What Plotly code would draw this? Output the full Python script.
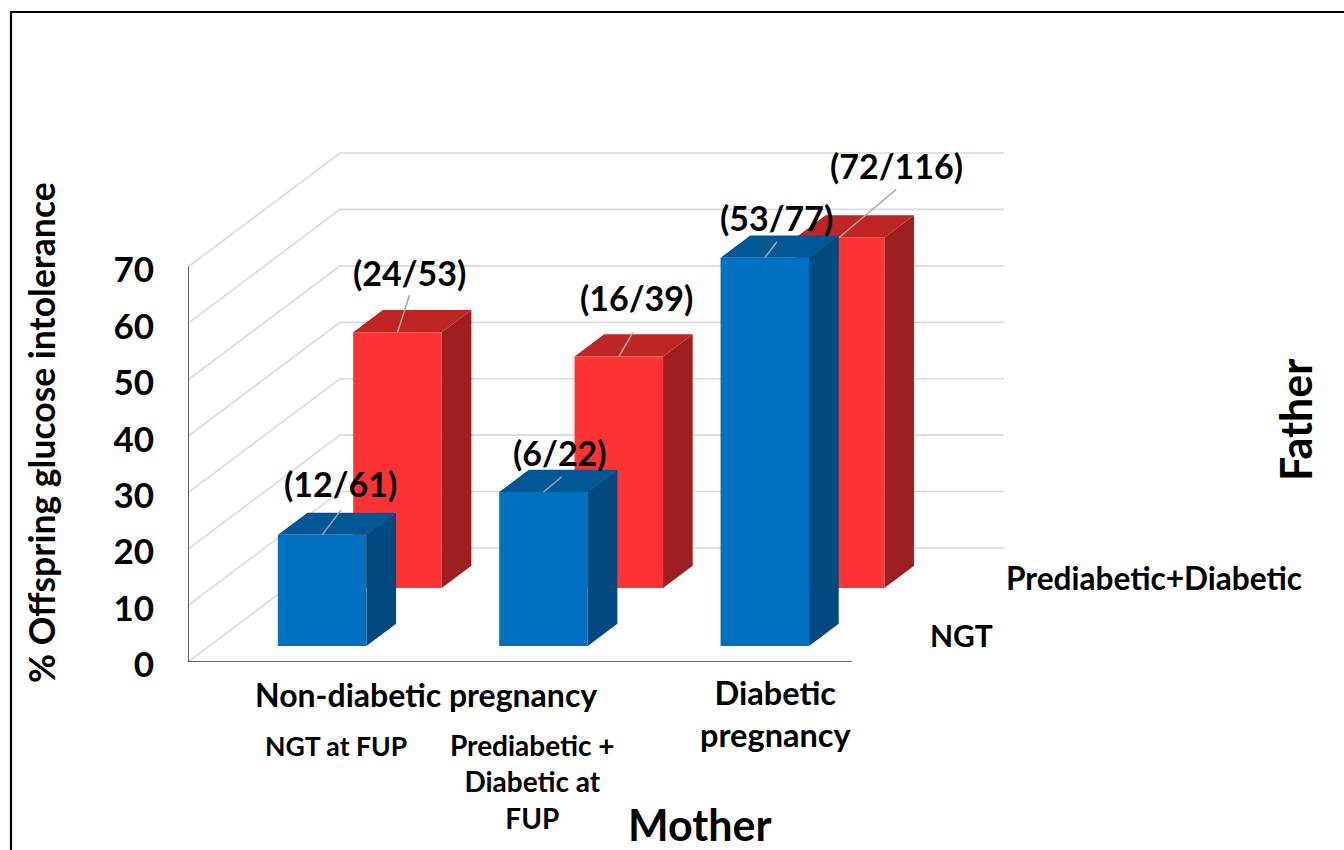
import plotly.graph_objects as go

# ---------- data ----------
y_ticks = [0, 10, 20, 30, 40, 50, 60, 70]
ngt_father_values = [19.7, 27.3, 68.8]          # blue, NGT father
pre_father_values = [45.3, 41.0, 62.1]          # red, Prediabetic+Diabetic father
ngt_father_labels = ["(12/61)", "(6/22)", "(53/77)"]
pre_father_labels = ["(24/53)", "(16/39)", "(72/116)"]
y_title = "% Offspring glucose intolerance"
mother_title = "Mother"
father_title = "Father"
depth_names = ["NGT", "Prediabetic+Diabetic"]

# ---------- layout constants (pixels of the page) ----------
W, H = 1344, 850
X0, Y0 = 188, 662          # origin of the front floor corner
PX_PER_CAT = 221.33
PX_PER_VAL = 5.643
DX_PX, DY_PX = 152, 114    # full depth vector of the floor
FONT = "Lato"

BLUE = dict(front="#0070C0", top="#005796", side="#004A80", d0=0.14, cx=0.51)
RED = dict(front="#FF3333", top="#BE2525", side="#9E1F1F", d0=0.65, cx=0.50)
BAR_W, BAR_D = 0.40, 0.195


def proj(x, d, v):
    """Oblique projection of category x, depth d (0-1), value v on the 2-D axes."""
    return x + d * DX_PX / PX_PER_CAT, v + d * DY_PX / PX_PER_VAL


def page_x(px):
    return (px - X0) / PX_PER_CAT


def paper_x(px):
    return (px - X0) / (W - X0)


def paper_y(py):
    return (Y0 - py) / Y0


def poly(points):
    xs, ys = [], []
    for (x, d, v) in points:
        a, b = proj(x, d, v)
        xs.append(a)
        ys.append(b)
    xs.append(xs[0])
    ys.append(ys[0])
    return xs, ys


fig = go.Figure()

# gridlines on wall + back
gx, gy = [], []
for t in y_ticks:
    for (x, d) in [(0, 0), (0, 1), (3, 1)]:
        a, b = proj(x, d, t)
        gx.append(a)
        gy.append(b)
    gx.append(None)
    gy.append(None)
fig.add_trace(go.Scatter(x=gx, y=gy, mode="lines", line=dict(color="#D9D9D9", width=1.6),
                         hoverinfo="skip", showlegend=False))


def add_series(values, st, name):
    faces = {"front": ([], []), "side": ([], []), "top": ([], [])}
    for i, v in enumerate(values):
        l = i + st["cx"] - BAR_W / 2
        r = l + BAR_W
        d0, d1 = st["d0"], st["d0"] + BAR_D
        shapes = {
            "front": [(l, d0, 0), (r, d0, 0), (r, d0, v), (l, d0, v)],
            "side": [(r, d0, 0), (r, d1, 0), (r, d1, v), (r, d0, v)],
            "top": [(l, d0, v), (r, d0, v), (r, d1, v), (l, d1, v)],
        }
        for k, pts in shapes.items():
            xs, ys = poly(pts)
            faces[k][0].extend(xs + [None])
            faces[k][1].extend(ys + [None])
    for k in ["side", "top", "front"]:
        xs, ys = faces[k]
        fig.add_trace(go.Scatter(x=xs, y=ys, mode="lines", fill="toself", fillcolor=st[k],
                                 line=dict(width=0, color=st[k]), name=name,
                                 hoverinfo="skip", showlegend=False))


add_series(pre_father_values, RED, depth_names[1])
add_series(ngt_father_values, BLUE, depth_names[0])

# leader lines + data labels
# offsets from the bar's front-top centre: leader start, leader end, label centre
BLUE_OFFS = [((0, 0), (19, -25), (18, -51)), ((0, 0), (18, -15), (17, -39)), ((0, 0), (12, -16), (12, -40))]
RED_OFFS = [((0, 0), (12, -37), (12, -60)), ((0, 0), (14, -24), (18, -59)), ((-1, 0), (56, -48), (56, -72))]
lx, ly = [], []
for values, labels, st, offs in [(ngt_father_values, ngt_father_labels, BLUE, BLUE_OFFS),
                                 (pre_father_values, pre_father_labels, RED, RED_OFFS)]:
    for i, v in enumerate(values):
        a, b = proj(i + st["cx"], st["d0"], v)
        s, e, t = offs[i]
        lx += [a + s[0] / PX_PER_CAT, a + e[0] / PX_PER_CAT, None]
        ly += [b - s[1] / PX_PER_VAL, b - e[1] / PX_PER_VAL, None]
        fig.add_annotation(x=a + t[0] / PX_PER_CAT, y=b - t[1] / PX_PER_VAL, text=labels[i], showarrow=False,
                           font=dict(family=FONT, size=34, color="black", weight="bold"))
fig.add_trace(go.Scatter(x=lx, y=ly, mode="lines", line=dict(color="#A6A6A6", width=1.5),
                         hoverinfo="skip", showlegend=False))

# axis lines
ax_x = [page_x(X0), page_x(X0), page_x(852)]
ax_y = [70, 0, 0]
fig.add_trace(go.Scatter(x=ax_x, y=ax_y, mode="lines", line=dict(color="#333333", width=1.5),
                         hoverinfo="skip", showlegend=False, cliponaxis=False))


def text(px, py, s, size, angle=0):
    fig.add_annotation(xref="paper", yref="paper", x=paper_x(px), y=paper_y(py), text=s, showarrow=False,
                       textangle=angle, font=dict(family=FONT, size=size, color="black", weight="bold"),
                       align="center", xanchor="center", yanchor="middle")


text(42, 433, y_title, 35.5, -90)
text(1295, 420, father_title, 43, -90)
text(700, 825, mother_title, 43)
text(426, 694, "Non-diabetic pregnancy", 32)
text(336, 746, "NGT at FUP", 26.6)
text(532, 781, "Prediabetic +<br>Diabetic at<br>FUP", 28)
text(775, 713, "Diabetic<br>pregnancy", 32.5)
text(1154, 578, depth_names[1], 31.6)
text(961, 635, depth_names[0], 30)

# page frame (left and top rules only)
fig.add_shape(type="path", xref="paper", yref="paper",
              path=f"M {paper_x(11)} {paper_y(H + 5)} L {paper_x(11)} {paper_y(12)} L {paper_x(W + 5)} {paper_y(12)}",
              line=dict(color="black", width=2.2))

fig.update_layout(
    width=W, height=H, margin=dict(l=X0, r=0, t=0, b=H - Y0), autosize=False,
    paper_bgcolor="white", plot_bgcolor="white", showlegend=False,
    xaxis=dict(range=[0, (W - X0) / PX_PER_CAT], visible=False, fixedrange=True),
    yaxis=dict(range=[0, Y0 / PX_PER_VAL], tickvals=y_ticks, showgrid=False, zeroline=False, showline=False,
               ticks="outside", ticklen=26, tickcolor="rgba(0,0,0,0)", ticklabelshift=3,
               tickfont=dict(family=FONT, size=35, color="black", weight="bold"), fixedrange=True),
)

fig.write_html("out.html", config={"displayModeBar": False},
               post_script="document.body.style.margin='0';document.documentElement.style.overflow='hidden';")
